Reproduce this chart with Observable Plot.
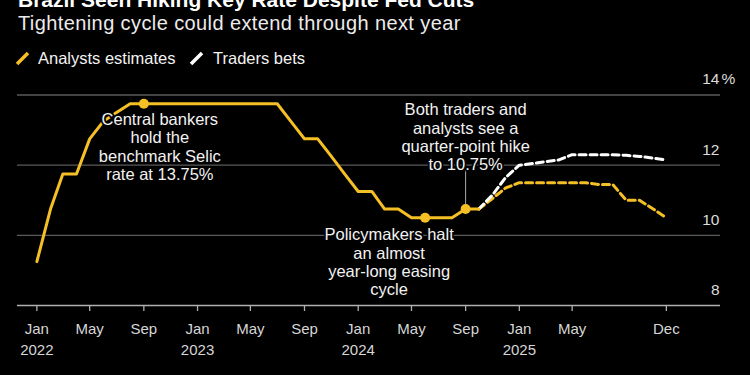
<!DOCTYPE html>
<html><head><meta charset="utf-8">
<script src="https://cdn.jsdelivr.net/npm/d3@7"></script>
<script src="https://cdn.jsdelivr.net/npm/@observablehq/plot@0.6"></script>
<style>
html,body{margin:0;padding:0;background:#000;}
#wrap{position:relative;width:750px;height:375px;overflow:hidden;background:#000;font-family:"Liberation Sans",Arial,sans-serif;color:#fff;}
.t{position:absolute;white-space:nowrap;line-height:1;}
#title{left:18px;top:-11.3px;font-size:21px;font-weight:bold;color:#fff;}
#sub{left:18px;top:12.6px;font-size:20px;letter-spacing:0.4px;color:#ececec;}
.leg{top:49.5px;font-size:16.5px;color:#f2f2f2;}
#chart{position:absolute;left:0;top:65px;}
</style></head><body>
<div id="wrap">
  <div class="t" id="title">Brazil Seen Hiking Key Rate Despite Fed Cuts</div>
  <div class="t" id="sub">Tightening cycle could extend through next year</div>
  <div id="legend"></div>
  <div id="chart"></div>
</div>
<script>
// ---- data ----
const histMonths = ["2022-01","2022-02","2022-03","2022-04","2022-05","2022-06","2022-07","2022-08","2022-09","2022-10","2022-11","2022-12",
  "2023-01","2023-02","2023-03","2023-04","2023-05","2023-06","2023-07","2023-08","2023-09","2023-10","2023-11","2023-12",
  "2024-01","2024-02","2024-03","2024-04","2024-05","2024-06","2024-07","2024-08","2024-09","2024-10"];
const histRate = [9.25,10.75,11.75,11.75,12.75,13.25,13.5,13.75,13.75,13.75,13.75,13.75,
  13.75,13.75,13.75,13.75,13.75,13.75,13.75,13.25,12.75,12.75,12.25,11.75,
  11.25,11.25,10.75,10.75,10.5,10.5,10.5,10.5,10.75,10.75];
const fcMonths = ["2024-10","2024-11","2024-12","2025-01","2025-02","2025-03","2025-04","2025-05","2025-06","2025-07","2025-08","2025-09","2025-10","2025-11","2025-12"];
const analystsEst = [10.75,11.05,11.35,11.5,11.5,11.5,11.5,11.5,11.5,11.45,11.45,11.0,11.0,10.75,10.5];
const tradersBets = [10.75,11.15,11.65,12.0,12.05,12.1,12.15,12.3,12.3,12.3,12.3,12.28,12.25,12.2,12.15];
const seriesNames = ["Analysts estimates","Traders bets"];
const seriesColors = ["#f5bf26","#ffffff"];
const yTicks = [8,10,12,14];
const xTickMonths = ["2022-01","2022-05","2022-09","2023-01","2023-05","2023-09","2024-01","2024-05","2024-09","2025-01","2025-05","2025-12"];
const xTickLabels = ["Jan\n2022","May","Sep","Jan\n2023","May","Sep","Jan\n2024","May","Sep","Jan\n2025","May","Dec"];
const noteMonths = ["2022-09","2024-06","2024-09"];
const noteTexts = ["Central bankers\nhold the\nbenchmark Selic\nrate at 13.75%",
  "Policymakers halt\nan almost\nyear-long easing\ncycle",
  "Both traders and\nanalysts see a\nquarter-point hike\nto 10.75%"];
const noteConnectorTop = [null, null, 11.85];

// ---- build ----
const toDate = m => new Date(m + "-01T00:00:00Z");
const hist = histMonths.map((m,i) => ({date: toDate(m), value: histRate[i]}));
const fc = fcMonths.flatMap((m,i) => [
  {date: toDate(m), value: analystsEst[i], series: seriesNames[0]},
  {date: toDate(m), value: tradersBets[i], series: seriesNames[1]}
]);
const rateAt = m => histRate[histMonths.indexOf(m)];
const notes = noteMonths.map((m,i) => ({date: toDate(m), value: rateAt(m), text: noteTexts[i], top: noteConnectorTop[i]}));
const noteOffsets = [[16,43],[-36,44],[0,-72]];
const tickLabelMap = new Map(xTickMonths.map((m,i) => [+toDate(m), xTickLabels[i]]));
const YELLOW = seriesColors[0];

// legend
const leg = document.getElementById("legend");
const legX = [[17,38],[191,213]];
seriesNames.forEach((name,i) => {
  const svgNS = "http://www.w3.org/2000/svg";
  const s = document.createElementNS(svgNS, "svg");
  s.setAttribute("width", 16); s.setAttribute("height", 16);
  s.style.position = "absolute"; s.style.left = (legX[i][0]-2) + "px"; s.style.top = "50px";
  const l = document.createElementNS(svgNS, "line");
  l.setAttribute("x1", 2); l.setAttribute("y1", 14); l.setAttribute("x2", 13); l.setAttribute("y2", 3);
  l.setAttribute("stroke", seriesColors[i]); l.setAttribute("stroke-width", 3.5);
  s.appendChild(l); leg.appendChild(s);
  const d = document.createElement("div");
  d.className = "t leg"; d.style.left = legX[i][1] + "px"; d.textContent = name;
  leg.appendChild(d);
});

const plot = Plot.plot({
  width: 750, height: 300,
  marginLeft: 17, marginRight: 30, marginTop: 29.5, marginBottom: 60,
  style: {background: "transparent", color: "#d6d6d6", fontFamily: "'Liberation Sans', Arial, sans-serif", overflow: "visible"},
  x: {type: "utc", domain: [new Date("2021-11-18T00:00:00Z"), new Date("2026-04-03T00:00:00Z")]},
  y: {domain: [8, 14], axis: null},
  marks: [
    Plot.ruleY(yTicks.filter(d => d > 8), {stroke: "#5a5a5a", strokeWidth: 1.3}),
    Plot.ruleY(yTicks.filter(d => d === 8), {stroke: "#b0b0b0", strokeWidth: 1.3}),
    Plot.text(yTicks, {y: d => d, text: d => String(d), frameAnchor: "right", textAnchor: "end", dx: -1, dy: -15.5, fill: "#dcdcdc", fontSize: 15.5}),
    Plot.text(yTicks.filter(d => d === 14), {y: d => d, text: () => "%", frameAnchor: "right", textAnchor: "start", dx: 1, dy: -15.5, fill: "#dcdcdc", fontSize: 15.5}),
    Plot.axisX({ticks: xTickMonths.map(toDate), tickFormat: d => tickLabelMap.get(+d), tickSize: 6, tickPadding: 8, fontSize: 15, lineHeight: 1.38, stroke: "#b0b0b0", fill: "#d6d6d6", strokeWidth: 1.3, label: null}),
    Plot.ruleX(notes.filter(d => d.top != null), {x: "date", y1: "value", y2: "top", stroke: "#aaaaaa", strokeWidth: 1}),
    Plot.line(fc, {x: "date", y: "value", z: "series", stroke: "series", strokeWidth: 3, strokeDasharray: "7,4"}),
    Plot.line(hist, {x: "date", y: "value", stroke: YELLOW, strokeWidth: 3, strokeLinejoin: "round"}),
    Plot.dot(notes, {x: "date", y: "value", r: 5, fill: YELLOW}),
    ...notes.map((n,i) => Plot.text([n], {x: "date", y: "value", text: "text", dx: noteOffsets[i][0], dy: noteOffsets[i][1], lineAnchor: "middle", lineHeight: 1.11, fontSize: 16.5, fill: "#f2f2f2", stroke: "#000", strokeWidth: 3.5}))
  ],
  color: {domain: seriesNames, range: seriesColors}
});
document.getElementById("chart").appendChild(plot);
</script>
</body></html>
